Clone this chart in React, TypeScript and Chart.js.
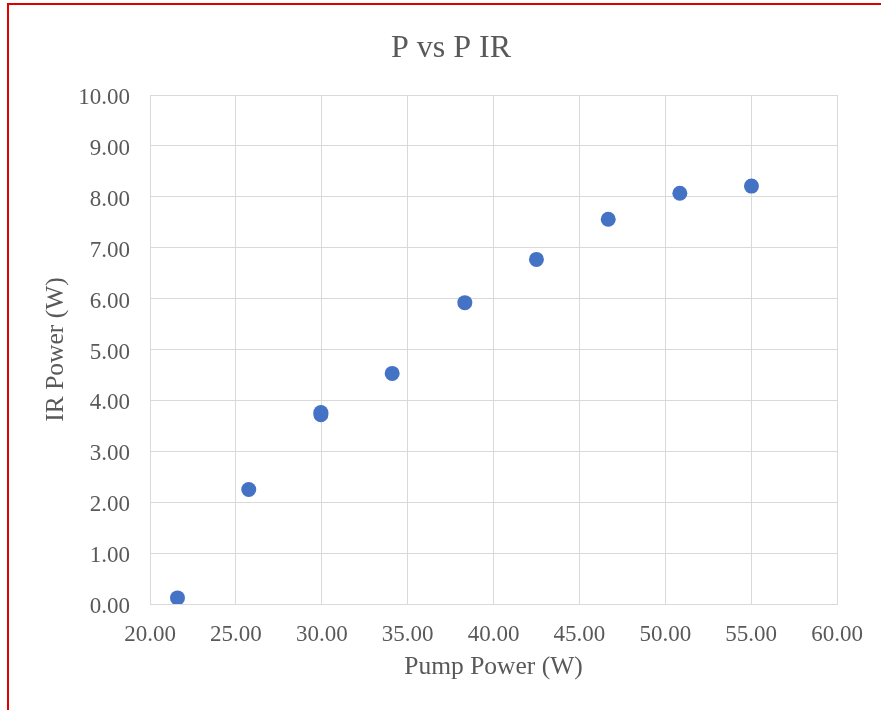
import React, { useEffect, useRef } from "react";
import { Chart, registerables } from "chart.js";

Chart.register(...registerables);

const chartTitle = "P vs P IR";
const xAxisTitle = "Pump Power (W)";
const yAxisTitle = "IR Power (W)";
const pumpPower = [21.6, 25.75, 29.95, 29.95, 34.1, 38.33, 42.5, 46.68, 50.85, 55.02];
const irPower = [0.12, 2.25, 3.72, 3.76, 4.53, 5.92, 6.77, 7.56, 8.07, 8.21];
const xMin = 20, xMax = 60, xStep = 5;
const yMin = 0, yMax = 10, yStep = 1;

const FONT = "'Liberation Serif', serif";
const TEXT = "#595959";
const GRID = "#d9d9d9";
const BLUE = "#4472C4";

export default function App() {
  const ref = useRef<HTMLCanvasElement | null>(null);
  useEffect(() => {
    if (!ref.current) return;
    const chart = new Chart(ref.current, {
      type: "scatter",
      data: {
        datasets: [
          {
            label: "IR",
            data: pumpPower.map((x, i) => ({ x, y: irPower[i] })),
            backgroundColor: BLUE,
            borderColor: BLUE,
            pointRadius: 7.5,
            pointBorderWidth: 0,
          },
        ],
      },
      options: {
        animation: false,
        responsive: false,
        devicePixelRatio: 1,
        layout: { padding: { left: 65, right: 44, top: 0, bottom: 0 } },
        plugins: {
          legend: { display: false },
          tooltip: { enabled: false },
          title: {
            display: true,
            text: chartTitle,
            color: TEXT,
            font: { family: FONT, size: 32, weight: "normal" },
            padding: { top: 29, bottom: 27.6 },
          },
        },
        scales: {
          x: {
            type: "linear",
            min: xMin,
            max: xMax,
            afterFit: (s: any) => { s.height = 106; },
            ticks: {
              stepSize: xStep,
              color: TEXT,
              padding: 17,
              font: { family: FONT, size: 23 },
              callback: (v: any) => Number(v).toFixed(2),
              maxRotation: 0,
            },
            grid: { color: GRID, lineWidth: 1, drawTicks: false },
            border: { color: GRID, width: 1 },
            title: {
              display: true,
              text: xAxisTitle,
              color: TEXT,
              font: { family: FONT, size: 25.5 },
              padding: { top: 0, bottom: 27 },
            },
          },
          y: {
            type: "linear",
            min: yMin,
            max: yMax,
            afterFit: (s: any) => { s.width = 85; },
            ticks: {
              stepSize: yStep,
              color: TEXT,
              padding: 20,
              labelOffset: 3,
              font: { family: FONT, size: 23 },
              callback: (v: any) => Number(v).toFixed(2),
            },
            grid: { color: GRID, lineWidth: 1, drawTicks: false },
            border: { color: GRID, width: 1 },
            title: {
              display: true,
              text: yAxisTitle,
              color: TEXT,
              font: { family: FONT, size: 25.5 },
              padding: { top: -24.3, bottom: 0 },
            },
          },
        },
      },
    });
    return () => chart.destroy();
  }, []);

  return (
    <div
      style={{
        position: "fixed",
        left: 0,
        top: 0,
        width: 881,
        height: 710,
        overflow: "hidden",
        background: "#ffffff",
      }}
    >
      <div
        style={{
          position: "absolute",
          left: 7,
          top: 3,
          width: 1000,
          height: 1000,
          borderLeft: "2px solid #e00000",
          borderTop: "2px solid #e00000",
        }}
      />
      <canvas
        ref={ref}
        width={881}
        height={710}
        style={{ position: "absolute", left: 0, top: 0, width: 881, height: 710 }}
      />
    </div>
  );
}
